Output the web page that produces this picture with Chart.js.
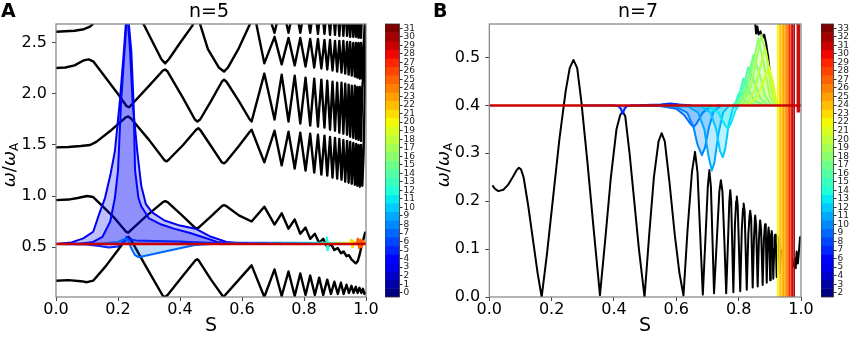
<!DOCTYPE html>
<html><head><meta charset="utf-8">
<script src="https://cdn.jsdelivr.net/npm/chart.js@4.4.1/dist/chart.umd.min.js"></script>
<style>
html,body{margin:0;padding:0;background:#fff;}
#wrap{position:relative;width:858px;height:337px;overflow:hidden;background:#fff;}
canvas{position:absolute;top:0;}
</style></head><body>
<div id="wrap">
<canvas id="cA" style="left:0px" width="380" height="337"></canvas>
<canvas id="cbA" style="left:385px" width="40" height="337"></canvas>
<canvas id="cB" style="left:430px" width="385" height="337"></canvas>
<canvas id="cbB" style="left:821px" width="37" height="337"></canvas>
</div>
<script>
// ---------------- DATA ----------------
const titleA = 'n=5', titleB = 'n=7', letterA = 'A', letterB = 'B', xTitle = 'S';
const yLabelParts = ['ω', '/', 'ω', 'A'];
const yTicksA = [0.5, 1.0, 1.5, 2.0, 2.5];
const yTicksB = [0.0, 0.1, 0.2, 0.3, 0.4, 0.5];
const cbLabelsA = ['0','1','2','3','4','5','6','7','8','9','10','11','12','13','14','15','16','17','18','19','20','21','22','23','24','25','26','27','28','29','30','31'];
const cbLabelsB = ['2','3','4','5','6','7','8','9','10','11','12','13','14','15','16','17','18','19','20','21','22','23','24','25','26','27','28','29','30','31','32','33'];

// Panel A: continuum branches (S, omega/omegaA)
const curveA0 = [[0.672,2.9],[0.705,2.6],[0.728,2.9],[0.75,2.6],[0.77,2.9],[0.788,2.6],[0.805,2.9],[0.82,2.6],[0.833,2.9],[0.845,2.59],[0.856,2.9],[0.866,2.59],[0.875,2.9],[0.884,2.58],[0.892,2.9],[0.9,2.58],[0.907,2.9],[0.914,2.57],[0.921,2.9],[0.927,2.57],[0.933,2.9],[0.939,2.57],[0.944,2.9],[0.949,2.56],[0.954,2.9],[0.959,2.56],[0.964,2.9],[0.968,2.56],[0.972,2.9],[0.976,2.55],[0.98,2.9],[0.984,2.55],[0.988,2.9]];
const curveA1a = [[0,2.61],[0.03,2.615],[0.06,2.62],[0.09,2.635],[0.11,2.66],[0.13,2.72],[0.14,2.78]];
const curveA1b = [[0.258,2.82],[0.28,2.70],[0.31,2.52],[0.34,2.34],[0.352,2.30],[0.364,2.34],[0.40,2.50],[0.44,2.67],[0.455,2.78],[0.49,2.44],[0.525,2.26],[0.542,2.22],[0.555,2.26],[0.59,2.45],[0.625,2.68],[0.64,2.78],[0.672,2.30],[0.705,2.56],[0.728,2.29],[0.75,2.55],[0.77,2.28],[0.788,2.55],[0.805,2.27],[0.82,2.54],[0.833,2.26],[0.845,2.54],[0.856,2.25],[0.866,2.53],[0.875,2.24],[0.884,2.53],[0.892,2.23],[0.9,2.52],[0.907,2.22],[0.914,2.52],[0.921,2.21],[0.927,2.52],[0.933,2.2],[0.939,2.51],[0.944,2.19],[0.949,2.51],[0.954,2.18],[0.959,2.5],[0.964,2.17],[0.968,2.5],[0.972,2.16],[0.976,2.5],[0.98,2.15],[0.984,2.5],[0.988,2.15],[0.993,2.5],[0.998,2.8]];
const curveA2 = [[0,2.255],[0.03,2.26],[0.06,2.28],[0.09,2.33],[0.105,2.34],[0.12,2.32],[0.15,2.2],[0.2,2.0],[0.228,1.88],[0.236,1.87],[0.245,1.9],[0.3,2.08],[0.345,2.23],[0.352,2.24],[0.36,2.22],[0.41,1.96],[0.448,1.75],[0.456,1.73],[0.465,1.75],[0.5,1.93],[0.535,2.12],[0.542,2.14],[0.55,2.12],[0.59,1.93],[0.625,1.75],[0.631,1.73],[0.672,2.2],[0.705,1.75],[0.728,2.19],[0.75,1.73],[0.77,2.18],[0.788,1.71],[0.805,2.16],[0.82,1.69],[0.833,2.15],[0.845,1.68],[0.856,2.14],[0.866,1.67],[0.875,2.13],[0.884,1.65],[0.892,2.12],[0.9,1.64],[0.907,2.11],[0.914,1.62],[0.921,2.11],[0.927,1.61],[0.933,2.1],[0.939,1.6],[0.944,2.09],[0.949,1.58],[0.954,2.08],[0.959,1.57],[0.964,2.08],[0.968,1.56],[0.972,2.07],[0.976,1.55],[0.98,2.07],[0.984,1.54],[0.988,2.06],[0.992,2.2],[0.996,2.5],[0.999,2.8]];
const curveA3 = [[0,1.477],[0.04,1.48],[0.08,1.49],[0.11,1.50],[0.13,1.53],[0.18,1.65],[0.225,1.77],[0.233,1.78],[0.242,1.76],[0.3,1.55],[0.35,1.35],[0.357,1.34],[0.365,1.36],[0.41,1.5],[0.452,1.65],[0.459,1.665],[0.467,1.64],[0.5,1.49],[0.535,1.33],[0.542,1.32],[0.55,1.34],[0.59,1.49],[0.625,1.63],[0.631,1.65],[0.672,1.33],[0.705,1.64],[0.728,1.30],[0.75,1.63],[0.77,1.27],[0.788,1.62],[0.805,1.25],[0.82,1.61],[0.833,1.23],[0.845,1.60],[0.856,1.21],[0.866,1.59],[0.875,1.20],[0.884,1.58],[0.892,1.18],[0.9,1.57],[0.907,1.17],[0.914,1.56],[0.921,1.16],[0.927,1.55],[0.933,1.14],[0.939,1.54],[0.944,1.13],[0.949,1.53],[0.954,1.12],[0.959,1.52],[0.964,1.11],[0.968,1.51],[0.972,1.10],[0.976,1.5],[0.98,1.09],[0.984,1.5],[0.988,1.1],[0.992,1.4],[0.996,2.0],[0.999,2.8]];
const curveA4 = [[0,0.96],[0.04,0.965],[0.07,0.98],[0.1,1.0],[0.12,0.99],[0.15,0.9],[0.19,0.78],[0.226,0.65],[0.233,0.64],[0.24,0.66],[0.29,0.8],[0.345,0.94],[0.352,0.95],[0.36,0.94],[0.41,0.8],[0.448,0.69],[0.454,0.68],[0.46,0.69],[0.5,0.8],[0.535,0.90],[0.542,0.91],[0.55,0.9],[0.59,0.81],[0.631,0.75],[0.672,0.895],[0.705,0.72],[0.728,0.83],[0.75,0.68],[0.77,0.77],[0.788,0.63],[0.805,0.69],[0.82,0.58],[0.835,0.63],[0.849,0.54],[0.862,0.58],[0.875,0.50],[0.887,0.53],[0.898,0.47],[0.909,0.49],[0.919,0.44],[0.928,0.455],[0.937,0.41],[0.945,0.42],[0.953,0.38],[0.96,0.36],[0.967,0.34],[0.973,0.36],[0.979,0.42],[0.985,0.5],[0.992,0.58],[0.998,0.65]];
const curveA5 = [[0,0.17],[0.04,0.175],[0.08,0.165],[0.1,0.155],[0.12,0.17],[0.16,0.31],[0.2,0.47],[0.226,0.58],[0.233,0.6],[0.24,0.58],[0.29,0.31],[0.345,0.02],[0.352,0.01],[0.36,0.03],[0.41,0.22],[0.45,0.37],[0.455,0.38],[0.46,0.37],[0.5,0.18],[0.54,0.01],[0.59,0.18],[0.631,0.32],[0.672,0.01],[0.705,0.28],[0.728,0.02],[0.75,0.26],[0.77,0.02],[0.788,0.24],[0.805,0.03],[0.82,0.22],[0.835,0.03],[0.849,0.2],[0.862,0.03],[0.875,0.18],[0.887,0.04],[0.898,0.16],[0.909,0.04],[0.919,0.15],[0.928,0.04],[0.937,0.13],[0.945,0.05],[0.953,0.12],[0.96,0.05],[0.967,0.11],[0.973,0.05],[0.979,0.1],[0.985,0.05],[0.99,0.09],[0.995,0.04],[1.0,0.06]];

// Panel A: eigenmodes (jet index 0..31)
const baseA = 0.53;
const modeA3 = [[0,0.53],[0.05,0.545],[0.088,0.585],[0.12,0.65],[0.14,0.83],[0.158,0.98],[0.175,1.2],[0.19,1.44],[0.206,1.93],[0.219,2.42],[0.226,2.72],[0.232,2.72],[0.239,2.42],[0.247,1.93],[0.262,1.44],[0.275,1.1],[0.29,0.92],[0.31,0.84],[0.35,0.76],[0.4,0.71],[0.45,0.68],[0.5,0.6],[0.55,0.55],[0.6,0.535],[1,0.53]];
const modeA4 = [[0,0.53],[0.08,0.535],[0.12,0.55],[0.15,0.6],[0.175,0.75],[0.19,0.98],[0.2,1.25],[0.21,1.93],[0.221,2.42],[0.228,2.72],[0.234,2.72],[0.243,2.42],[0.25,1.93],[0.255,1.25],[0.266,0.98],[0.275,0.9],[0.3,0.78],[0.34,0.72],[0.38,0.68],[0.43,0.64],[0.47,0.6],[0.52,0.55],[0.6,0.533],[1,0.53]];
const modeA5 = [[0,0.53],[0.1,0.525],[0.14,0.51],[0.17,0.495],[0.2,0.505],[0.22,0.56],[0.228,0.6],[0.236,0.575],[0.26,0.565],[0.32,0.56],[0.4,0.555],[0.46,0.545],[0.52,0.535],[1,0.53]];
const modeA7 = [[0,0.53],[0.15,0.535],[0.2,0.55],[0.226,0.585],[0.234,0.56],[0.244,0.48],[0.255,0.42],[0.266,0.40],[0.448,0.52],[0.5,0.53],[1,0.53]];
const fillModeIdxA = [3, 4, 5, 7];
const segModesA = [5,6,7,8,9,10,11,12,14,16,18,20,22,24];
const segStartA = [0.40,0.55,0.62,0.68,0.73,0.78,0.82,0.85,0.88,0.90,0.92,0.94,0.96,0.98];
const segEndA   = [0.55,0.62,0.68,0.73,0.78,0.82,0.85,0.88,0.90,0.92,0.94,0.96,0.98,1.00];
const segLevelA = 0.537;
const spikeA12 = [[0.872,0.53],[0.874,0.59],[0.876,0.47],[0.878,0.53]];
const spikeA21 = [[0.95,0.53],[0.953,0.57],[0.956,0.5],[0.958,0.56],[0.961,0.53]];
const spikeA25 = [[0.97,0.53],[0.974,0.58],[0.978,0.49],[0.982,0.57],[0.986,0.5],[0.99,0.56],[0.994,0.53]];
const spikeIdxA = [12, 21, 25];
const redIdxA = 29;

// Panel B: continuum
const curveB = [[0.01,0.233],[0.018,0.226],[0.029,0.221],[0.045,0.224],[0.06,0.234],[0.075,0.25],[0.088,0.265],[0.095,0.27],[0.102,0.266],[0.11,0.25],[0.125,0.19],[0.14,0.12],[0.155,0.05],[0.168,0.0],[0.185,0.09],[0.205,0.21],[0.225,0.33],[0.245,0.43],[0.258,0.478],[0.27,0.495],[0.282,0.478],[0.295,0.41],[0.315,0.28],[0.335,0.14],[0.355,0.004],[0.372,0.12],[0.39,0.25],[0.408,0.35],[0.42,0.38],[0.428,0.387],[0.436,0.378],[0.45,0.3],[0.465,0.2],[0.48,0.1],[0.498,0.0],[0.513,0.13],[0.528,0.25],[0.543,0.325],[0.553,0.342],[0.563,0.325],[0.578,0.24],[0.595,0.13],[0.61,0.05],[0.623,0.003],[0.636,0.14],[0.65,0.26],[0.66,0.303],[0.668,0.26],[0.676,0.14],[0.685,0.005],[0.694,0.13],[0.701,0.23],[0.706,0.265],[0.711,0.23],[0.716,0.12],[0.721,0.008],[0.73,0.12],[0.738,0.22],[0.743,0.244],[0.748,0.22],[0.754,0.12],[0.76,0.008],[0.766,0.12],[0.77,0.2],[0.773,0.223],[0.776,0.2],[0.783,0.01],[0.788,0.15],[0.792,0.2],[0.794,0.21],[0.797,0.19],[0.805,0.012],[0.81,0.14],[0.814,0.185],[0.816,0.195],[0.819,0.18],[0.826,0.015],[0.831,0.13],[0.835,0.17],[0.837,0.18],[0.84,0.165],[0.845,0.02],[0.849,0.12],[0.852,0.162],[0.853,0.17],[0.856,0.15],[0.861,0.022],[0.865,0.12],[0.868,0.155],[0.869,0.16],[0.872,0.14],[0.877,0.025],[0.881,0.12],[0.884,0.148],[0.885,0.152],[0.887,0.14],[0.89,0.03],[0.893,0.11],[0.895,0.14],[0.896,0.145],[0.898,0.13],[0.901,0.035],[0.903,0.1],[0.905,0.133],[0.906,0.138],[0.908,0.125],[0.911,0.038],[0.914,0.1],[0.916,0.125],[0.917,0.13],[0.919,0.118],[0.922,0.042],[0.925,0.1],[0.927,0.12],[0.928,0.125],[0.93,0.11],[0.932,0.05],[0.935,0.1]];
const curveBTop = [[0.852,0.58],[0.856,0.55],[0.86,0.565],[0.864,0.548],[0.87,0.555],[0.876,0.54],[0.882,0.548],[0.888,0.53],[0.895,0.5],[0.9,0.47],[0.905,0.44]];
const curveBEnd = [[0.976,0.062],[0.98,0.08],[0.983,0.06],[0.986,0.095],[0.99,0.07],[0.994,0.1],[0.997,0.125],[1.0,0.125]];

// Panel B: eigenmodes (jet index 2..33)
const baseB = 0.40;
const dipB7  = [[0.3,0.4],[0.4,0.4],[0.415,0.398],[0.422,0.393],[0.428,0.383],[0.434,0.393],[0.442,0.399],[0.5,0.401],[0.55,0.402],[0.58,0.404],[0.61,0.402],[0.65,0.4]];
const dipB9  = [[0.45,0.4],[0.55,0.399],[0.6,0.393],[0.625,0.38],[0.645,0.362],[0.655,0.355],[0.665,0.362],[0.685,0.385],[0.71,0.398],[0.74,0.4]];
const dipB10 = [[0.5,0.4],[0.6,0.397],[0.635,0.385],[0.655,0.355],[0.668,0.318],[0.682,0.296],[0.692,0.312],[0.705,0.355],[0.72,0.388],[0.745,0.4]];
const dipB11 = [[0.55,0.4],[0.64,0.397],[0.67,0.385],[0.69,0.35],[0.703,0.295],[0.714,0.264],[0.722,0.28],[0.735,0.34],[0.75,0.385],[0.77,0.4]];
const dipB12 = [[0.6,0.4],[0.68,0.397],[0.71,0.385],[0.728,0.35],[0.74,0.305],[0.749,0.292],[0.757,0.31],[0.768,0.36],[0.782,0.395],[0.795,0.4]];
const dipB13 = [[0.62,0.4],[0.7,0.398],[0.735,0.385],[0.755,0.36],[0.765,0.352],[0.775,0.362],[0.79,0.39],[0.8,0.4]];
const dipIdxB = [7, 9, 10, 11, 12, 13];
const humpB14 = [[0.78,0.4],[0.79,0.405],[0.8,0.425],[0.81,0.415],[0.83,0.405],[0.86,0.4]];
const humpB15 = [[0.785,0.4],[0.8,0.415],[0.815,0.456],[0.83,0.435],[0.85,0.41],[0.88,0.4]];
const humpB16 = [[0.79,0.4],[0.81,0.425],[0.831,0.48],[0.85,0.45],[0.87,0.415],[0.895,0.4]];
const humpB17 = [[0.795,0.4],[0.82,0.43],[0.847,0.505],[0.865,0.47],[0.885,0.42],[0.905,0.4]];
const humpB18 = [[0.8,0.4],[0.83,0.435],[0.863,0.54],[0.88,0.49],[0.9,0.42],[0.915,0.4]];
const humpB19 = [[0.81,0.4],[0.84,0.44],[0.873,0.547],[0.89,0.5],[0.905,0.43],[0.92,0.4]];
const humpB20 = [[0.82,0.4],[0.85,0.43],[0.885,0.52],[0.9,0.47],[0.912,0.42],[0.925,0.4]];
const humpB21 = [[0.83,0.4],[0.86,0.42],[0.898,0.48],[0.91,0.45],[0.92,0.41],[0.93,0.4]];
const humpIdxB = [14, 15, 16, 17, 18, 19, 20, 21];
const bandModesB = [22,23,24,24,25,25,26,27,29,30,31,32];
const bandStartB = [0.923,0.928,0.932,0.937,0.942,0.947,0.952,0.957,0.961,0.966,0.970,0.975];
const bandEndB   = [0.929,0.933,0.938,0.943,0.948,0.953,0.958,0.962,0.967,0.971,0.976,0.981];
const bandTopB = 0.62;
const stripB = [[0.985,0.62],[0.998,0.62]];
const stripLowB = 0.385;
const stripIdxB = 31;
const redIdxB = 31;

// ---------------- STYLE / HELPERS ----------------
const FONT = '"DejaVu Sans", sans-serif';
Chart.defaults.font.family = FONT;
const JR=[[0,0],[0.35,0],[0.66,1],[0.89,1],[1,0.5]];
const JG=[[0,0],[0.125,0],[0.375,1],[0.64,1],[0.91,0],[1,0]];
const JB=[[0,0.5],[0.11,1],[0.34,1],[0.65,0],[1,0]];
function interp(tab,t){for(let i=1;i<tab.length;i++){if(t<=tab[i][0]){const a=tab[i-1],b=tab[i];return a[1]+(b[1]-a[1])*(t-a[0])/(b[0]-a[0]);}}return tab[tab.length-1][1];}
function jet(t,a){if(a===undefined)a=1;const r=Math.round(255*interp(JR,t)),g=Math.round(255*interp(JG,t)),b=Math.round(255*interp(JB,t));return `rgba(${r},${g},${b},${a})`;}
const jetA = (m,a)=>jet(m/31,a);
const jetB = (m,a)=>jet((m-2)/31,a);

function ds(data,color,width,order,extra){return Object.assign({data:data,borderColor:color,borderWidth:width,pointRadius:0,fill:false,order:order,tension:0,borderJoinStyle:'round'},extra||{});}

const deco = {
  id:'deco',
  afterDraw(chart,args,o){
    const ctx=chart.ctx,a=chart.chartArea;
    ctx.save();
    ctx.strokeStyle=o.frameColor||'#808080';ctx.lineWidth=o.frameWidth||1.2;
    ctx.strokeRect(a.left,a.top,a.right-a.left,a.bottom-a.top);
    ctx.fillStyle='#000';
    if(o.title){ctx.font='19px '+FONT;ctx.textAlign='center';ctx.textBaseline='middle';ctx.fillText(o.title,o.titleX,12);}
    if(o.letter){ctx.font='bold 19px '+FONT;ctx.textAlign='left';ctx.textBaseline='middle';ctx.fillText(o.letter,o.letterX,12);}
    if(o.ylabel){
      ctx.translate(o.ylabelX,o.ylabelY);ctx.rotate(-Math.PI/2);
      const fonts=['italic 18px '+FONT,'18px '+FONT,'italic 18px '+FONT,'12px '+FONT];
      const dys=[0,0,0,5];
      let w=0;const ws=[];
      o.ylabel.forEach((t,i)=>{ctx.font=fonts[i];ws.push(ctx.measureText(t).width);w+=ws[i];});
      let cx=-w/2;ctx.textAlign='left';ctx.textBaseline='middle';
      o.ylabel.forEach((t,i)=>{ctx.font=fonts[i];ctx.fillText(t,cx,dys[i]);cx+=ws[i];});
    }
    ctx.restore();
  }
};

function mainOpts(p){
  return {
    responsive:false,animation:false,devicePixelRatio:1,
    layout:{padding:{left:0,right:p.padRight,top:24,bottom:0}},
    plugins:{legend:{display:false},tooltip:{enabled:false},
      deco:{title:p.title,titleX:p.titleX,letter:p.letter,letterX:p.letterX,ylabel:yLabelParts,ylabelX:p.ylabelX,ylabelY:165}},
    scales:{
      x:{type:'linear',min:0,max:1,afterFit:s=>{s.height=40;},
        ticks:{stepSize:0.2,padding:1,color:'#000',maxRotation:0,font:{size:16,family:FONT,lineHeight:1},callback:v=>Number(v).toFixed(1)},
        grid:{drawOnChartArea:false,tickLength:4,color:'#444'},border:{display:false},
        title:{display:true,text:xTitle,color:'#000',font:{size:19,family:FONT,lineHeight:1.1},padding:0}},
      y:{type:'linear',min:p.yMin,max:p.yMax,afterFit:s=>{s.width=p.yWidth;},
        afterBuildTicks:s=>{s.ticks=p.yTicks.map(v=>({value:v}));},
        ticks:{padding:5,color:'#000',font:{size:16,family:FONT},callback:v=>Number(v).toFixed(1)},
        grid:{drawOnChartArea:false,tickLength:4,color:'#444'},border:{display:false}}
    }
  };
}

function colorbar(id,labels,axisW){
  new Chart(document.getElementById(id),{
    type:'bar',
    data:{labels:labels,datasets:[{data:labels.map(()=>1),backgroundColor:labels.map((l,i)=>jet(i/(labels.length-1))),borderWidth:0,barPercentage:1,categoryPercentage:1}]},
    options:{indexAxis:'y',responsive:false,animation:false,devicePixelRatio:1,
      layout:{padding:{top:24,bottom:40,left:0,right:0}},
      plugins:{legend:{display:false},tooltip:{enabled:false},deco:{frameColor:'#333',frameWidth:0.8}},
      scales:{x:{display:false,min:0,max:1},
        y:{position:'right',reverse:true,afterFit:s=>{s.width=axisW;},
          grid:{offset:false,drawOnChartArea:false,tickLength:3,color:'#333'},border:{display:false},
          ticks:{autoSkip:false,padding:1,color:'#222',font:{size:9,family:FONT,lineHeight:1}}}}},
    plugins:[deco]
  });
}

// ---------------- PANEL A ----------------
const dA=[];
[curveA0,curveA1a,curveA1b,curveA2,curveA3,curveA4,curveA5].forEach(c=>dA.push(ds(c,'#000',2.4,1000)));
[modeA3,modeA4,modeA5,modeA7].forEach((c,i)=>{const m=fillModeIdxA[i];
  dA.push(ds(c,jetA(m),2,200-m,{fill:{value:baseA},backgroundColor:jetA(m,0.25)}));});
segModesA.forEach((m,i)=>dA.push(ds([[segStartA[i],segLevelA],[segEndA[i],segLevelA]],jetA(m),3,200-m)));
[spikeA12,spikeA21,spikeA25].forEach((c,i)=>{const m=spikeIdxA[i];dA.push(ds(c,jetA(m),2.5,200-m,{fill:{value:baseA},backgroundColor:jetA(m,0.5)}));});
dA.push(ds([[0,baseA],[1,baseA]],jetA(redIdxA),2.5,1));
new Chart(document.getElementById('cA'),{type:'line',data:{datasets:dA},
  options:mainOpts({padRight:14,yWidth:56,yMin:0.01,yMax:2.686,yTicks:yTicksA,title:titleA,titleX:209,letter:letterA,letterX:1,ylabelX:10}),
  plugins:[deco]});
colorbar('cbA',cbLabelsA,25.5);

// ---------------- PANEL B ----------------
const dB=[];
[curveB,curveBTop,curveBEnd].forEach(c=>dB.push(ds(c,'#000',2,1000)));
[dipB7,dipB9,dipB10,dipB11,dipB12,dipB13].forEach((c,i)=>{const m=dipIdxB[i];
  dB.push(ds(c,jetB(m),2,200-m,{fill:{value:baseB},backgroundColor:jetB(m,0.25)}));});
[humpB14,humpB15,humpB16,humpB17,humpB18,humpB19,humpB20,humpB21].forEach((c,i)=>{const m=humpIdxB[i];
  dB.push(ds(c,jetB(m),2,200-m,{fill:{value:baseB},backgroundColor:jetB(m,0.15)}));});
bandModesB.forEach((m,i)=>dB.push(ds([[bandStartB[i],bandTopB],[bandEndB[i],bandTopB]],jetB(m),1,200-m,{fill:'start',backgroundColor:jetB(m,0.95)})));
dB.push(ds(stripB,jetB(stripIdxB),1,200-stripIdxB,{fill:{value:stripLowB},backgroundColor:jetB(stripIdxB,0.95)}));
dB.push(ds([[0,baseB],[1,baseB]],jetB(redIdxB),2.5,1));
new Chart(document.getElementById('cB'),{type:'line',data:{datasets:dB},
  options:mainOpts({padRight:14,yWidth:59.3,yMin:0,yMax:0.57,yTicks:yTicksB,title:titleB,titleX:208,letter:letterB,letterX:3,ylabelX:14}),
  plugins:[deco]});
colorbar('cbB',cbLabelsB,24.5);
</script>
</body></html>
